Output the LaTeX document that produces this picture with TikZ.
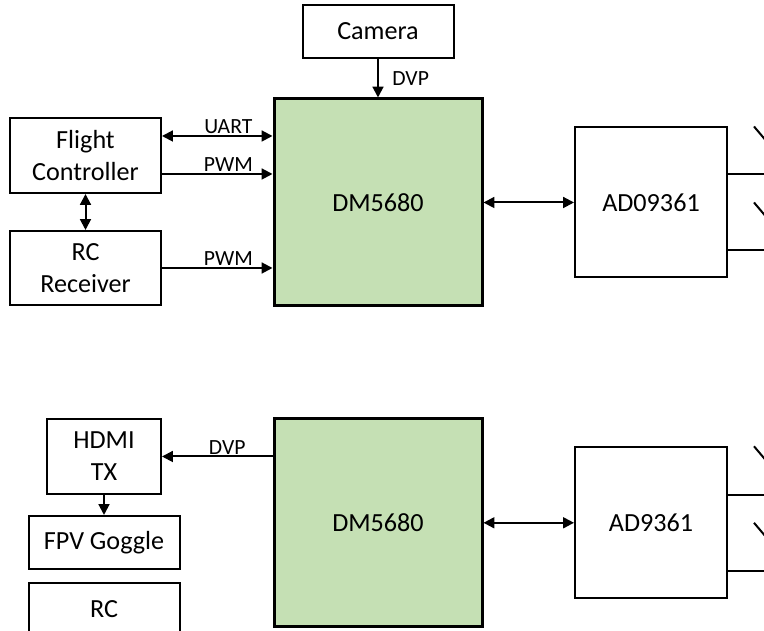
\documentclass[tikz,border=0pt]{standalone}
\usepackage{fontspec}
\setmainfont{Carlito}
\usetikzlibrary{positioning,arrows.meta}
\definecolor{chipgreen}{HTML}{C5E0B4}

\begin{document}
\begin{tikzpicture}
    [
        ->,
        >={Triangle[length=0.27cm,width=0.27cm]},
        line width=0.05cm,
        node distance=3.0cm,
        block/.style={draw, rectangle, align=center, inner sep=0pt,
            minimum width=3.775cm, minimum height=1.325cm,
            font=\fontsize{18.6}{22.8}\selectfont},
        block tall/.style={block, minimum height=1.875cm},
        chip/.style={block, fill=chipgreen, line width=0.075cm,
            minimum width=5.2cm, minimum height=5.175cm},
        rf/.style={block, minimum width=3.8cm, minimum height=3.75cm},
        bus/.style={font=\fontsize{15.4}{17}\selectfont, inner sep=1pt},
        antenna/.style={-}
    ]
    \useasboundingbox (0,0) rectangle (19.1,15.775);
    \clip (0,0) rectangle (19.1,15.775);

    % top: drone side
    \node (dm top)  [chip] at (9.45,10.7125) {DM5680};
    \node (camera)  [block, above of=dm top, node distance=4.275cm] {Camera};
    \node (ad top)  [rf, right of=dm top, node distance=6.825cm] {AD09361};
    \node (fc)      [block tall] at (2.1375,11.8875) {Flight\\Controller};
    \node (rcr)     [block tall, minimum height=1.85cm, below of=fc,
                        node distance=2.8125cm] {RC\\Receiver};

    % bottom: ground side
    \node (dm bot)  [chip, minimum height=5.2cm, below of=dm top,
                        node distance=8.0075cm] {DM5680};
    \node (ad bot)  [rf, minimum height=3.775cm, right of=dm bot,
                        node distance=6.825cm] {AD9361};
    \node (hdmi)    [block tall, minimum width=2.85cm] at (2.6,4.3625) {HDMI\\TX};
    \node (fpv)     [block, below of=hdmi, node distance=2.15cm] {FPV Goggle};
    \node (rc)      [block, below of=fpv, node distance=1.675cm] {RC};

    \coordinate (uart fc) at ([yshift=0.4875cm]fc.east);
    \coordinate (pwm fc)  at ([yshift=-0.4625cm]fc.east);

    \path
    (camera) edge node [bus, right=0.3cm] {DVP} (dm top)
    (uart fc) edge [<->] node [bus, above, pos=0.6] {UART} (uart fc -| dm top.west)
    (pwm fc)  edge node [bus, above, pos=0.6] {PWM} (pwm fc -| dm top.west)
    (rcr.east) edge node [bus, above, pos=0.6] {PWM} (rcr.east -| dm top.west)
    (fc) edge [<->] (rcr)
    (dm top) edge [<->] (ad top)
    (dm bot.west |- hdmi.east) edge node [bus, above, pos=0.41] {DVP} (hdmi.east)
    (hdmi) edge (fpv)
    (dm bot) edge [<->] (ad bot)
    ;

    % antennas, cut by the page edge
    \path [antenna]
    ([yshift=0.7cm]ad top.east)  edge ([xshift=1.2cm, yshift=0.7cm]ad top.east)
    ([yshift=-1.2cm]ad top.east) edge ([xshift=1.2cm, yshift=-1.2cm]ad top.east)
    ([xshift=0.65cm]ad top.north east) edge ([xshift=1.2cm, yshift=-0.65cm]ad top.north east)
    ([xshift=0.65cm]ad top.east) edge ([xshift=1.2cm, yshift=-0.65cm]ad top.east)
    ([yshift=0.7cm]ad bot.east)  edge ([xshift=1.2cm, yshift=0.7cm]ad bot.east)
    ([yshift=-1.2cm]ad bot.east) edge ([xshift=1.2cm, yshift=-1.2cm]ad bot.east)
    ([xshift=0.65cm]ad bot.north east) edge ([xshift=1.2cm, yshift=-0.65cm]ad bot.north east)
    ([xshift=0.65cm]ad bot.east) edge ([xshift=1.2cm, yshift=-0.65cm]ad bot.east)
    ;
\end{tikzpicture}
\end{document}
